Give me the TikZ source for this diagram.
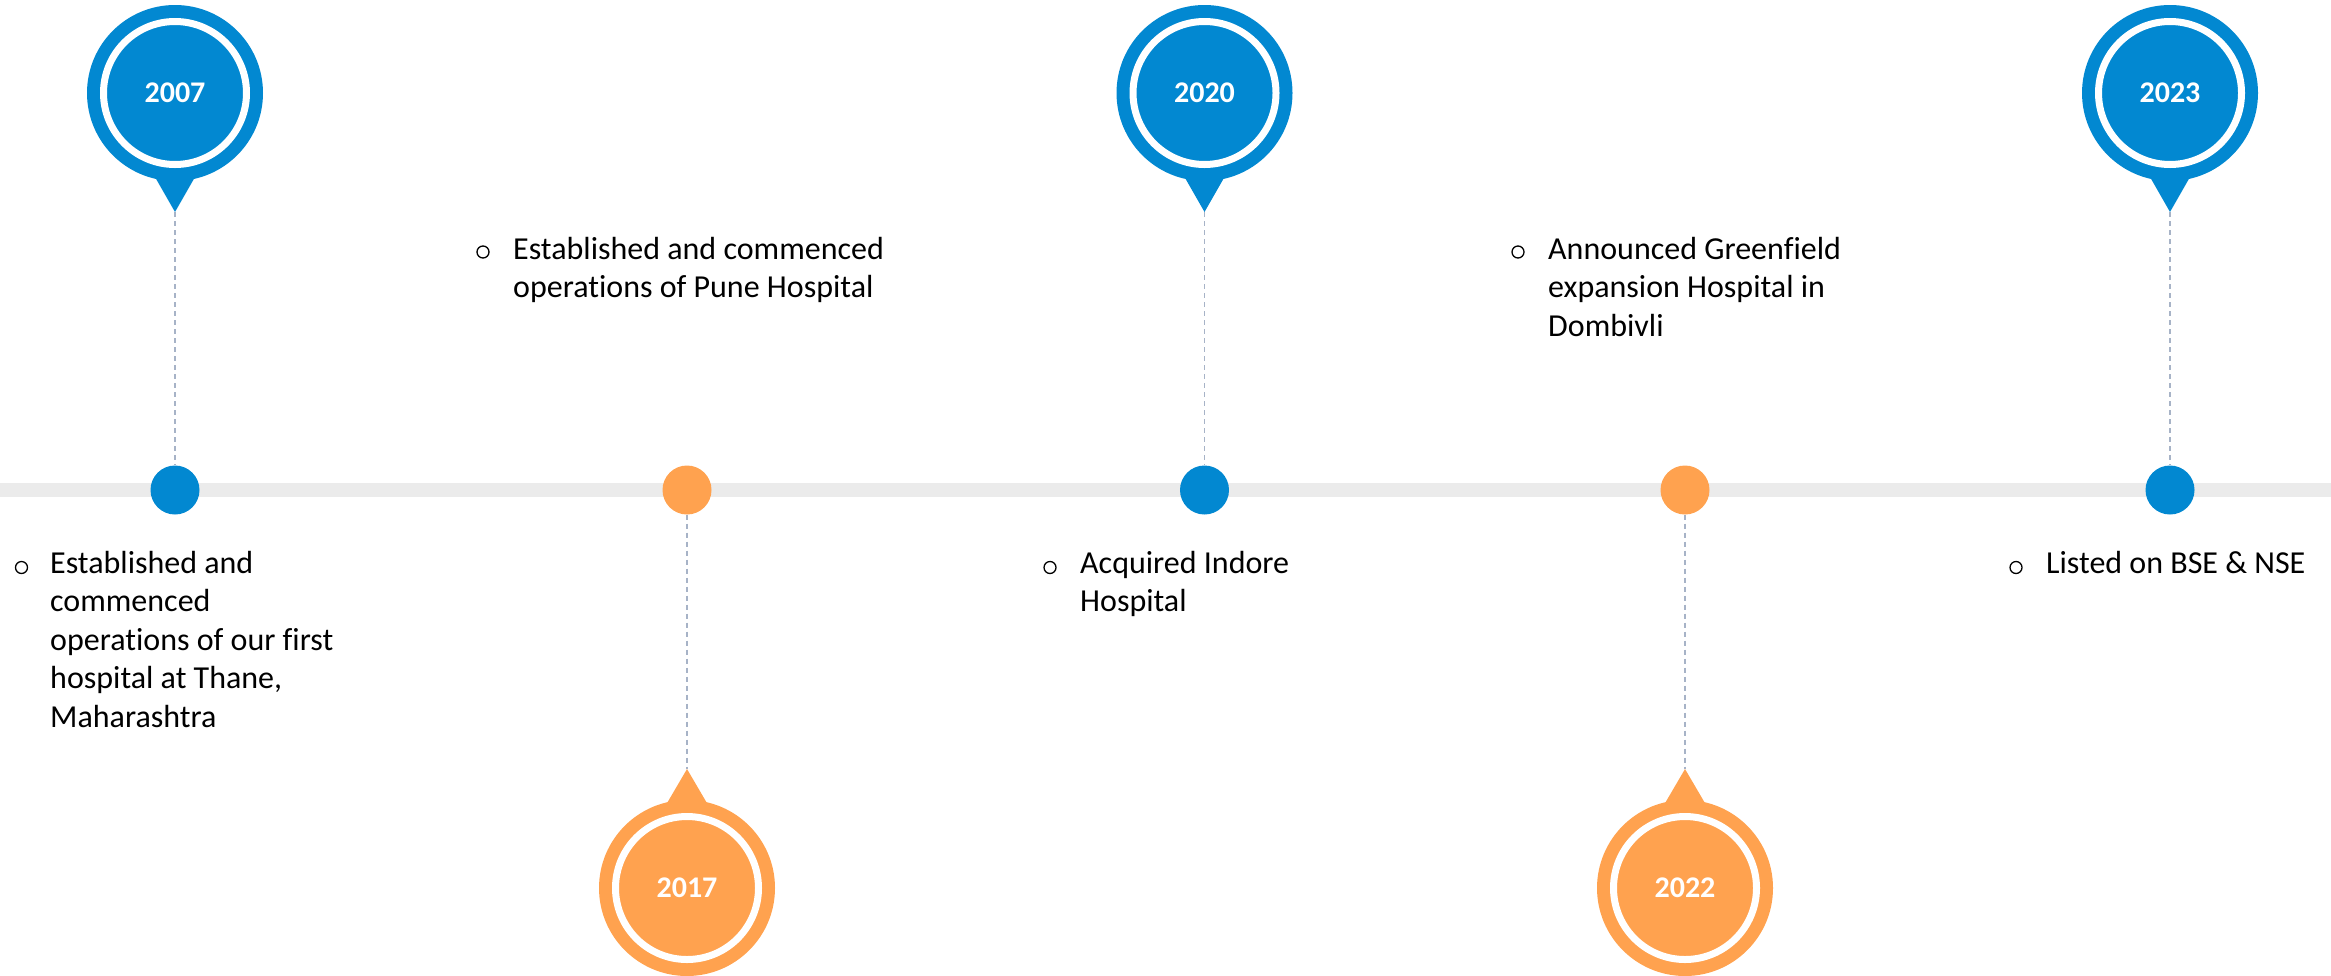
\documentclass[tikz,border=0pt]{standalone}
\usepackage{fontspec}
\setmainfont[Ligatures={NoCommon}]{Carlito}
\definecolor{pinblue}{HTML}{0288D1}
\definecolor{pinorange}{HTML}{FFA24F}
\definecolor{tlgray}{HTML}{EBEBEB}
\definecolor{dashgray}{HTML}{A7B3C7}
\newcommand{\firststrut}{\rule{0pt}{25pt}}
\begin{document}
\begin{tikzpicture}[x=1pt,y=-1pt,
  pinhead/.style={circle, fill=#1, minimum size=176pt, inner sep=0pt, text=white, font=\fontsize{30}{36}\selectfont\bfseries},
  ring/.style={draw=white, line width=7pt},
  tail/.style={fill=#1},
  dot/.style={circle, fill=#1, minimum size=49pt, inner sep=0pt},
  leader/.style={draw=dashgray, line width=1.4pt, dash pattern=on 5pt off 4pt},
  desc/.style={anchor=north west, align=left, inner sep=0pt, font=\fontsize{32}{38.5}\selectfont},
  bul/.style={circle, draw=black, line width=1.3pt, minimum size=12pt, inner sep=0pt}
]
\useasboundingbox (0,0) rectangle (2331,975);

% timeline band
\coordinate (lineL) at (0,490);
\coordinate (lineR) at (2331,490);
\draw[tlgray, line width=14pt] (lineL) -- (lineR);

% pin tips
\coordinate (tipA) at (175,212);
\coordinate (tipB) at (687,769);
\coordinate (tipC) at (1204.5,212);
\coordinate (tipD) at (1685,769);
\coordinate (tipE) at (2170,212);

% dots
\node[dot=pinblue]   (dotA) at (175,490) {};
\node[dot=pinorange] (dotB) at (687,490) {};
\node[dot=pinblue]   (dotC) at (1204.5,490) {};
\node[dot=pinorange] (dotD) at (1685,490) {};
\node[dot=pinblue]   (dotE) at (2170,490) {};

% leaders
\draw[leader] (tipA) -- (dotA.north);
\draw[leader] (dotB.south) -- (tipB);
\draw[leader] (tipC) -- (dotC.north);
\draw[leader] (dotD.south) -- (tipD);
\draw[leader] (tipE) -- (dotE.north);

% tails
\fill[tail=pinblue]   (151,170) -- (199,170) -- (tipA) -- cycle;
\fill[tail=pinorange] (663,810) -- (711,810) -- (tipB) -- cycle;
\fill[tail=pinblue]   (1180.5,170) -- (1228.5,170) -- (tipC) -- cycle;
\fill[tail=pinorange] (1661,810) -- (1709,810) -- (tipD) -- cycle;
\fill[tail=pinblue]   (2146,170) -- (2194,170) -- (tipE) -- cycle;

% pin heads
\node[pinhead=pinblue]   (pinA) at (175,93) {2007};
\node[pinhead=pinorange] (pinB) at (687,888) {2017};
\node[pinhead=pinblue]   (pinC) at (1204.5,93) {2020};
\node[pinhead=pinorange] (pinD) at (1685,888) {2022};
\node[pinhead=pinblue]   (pinE) at (2170,93) {2023};
\foreach \p in {pinA,pinB,pinC,pinD,pinE}
  \draw[ring] (\p.center) circle[radius=71.5pt];

% descriptions (first baseline = y + 25)
\node[bul] (bA) at (21.5,567.5) {};
\node[desc] (tA) at (50,548) {\firststrut Established and\\commenced\\operations of our first\\hospital at Thane,\\Maharashtra};
\node[bul] (bB) at (483,252) {};
\node[desc] (tB) at (513,234) {\firststrut Established and commenced\\operations of Pune Hospital};
\node[bul] (bC) at (1050,567.5) {};
\node[desc] (tC) at (1080,548) {\firststrut Acquired Indore\\Hospital};
\node[bul] (bD) at (1518,252) {};
\node[desc] (tD) at (1548,234) {\firststrut Announced Greenfield\\expansion Hospital in\\Dombivli};
\node[bul] (bE) at (2016,567.5) {};
\node[desc] (tE) at (2046,548) {\firststrut Listed on BSE \& NSE};
\end{tikzpicture}
\end{document}
